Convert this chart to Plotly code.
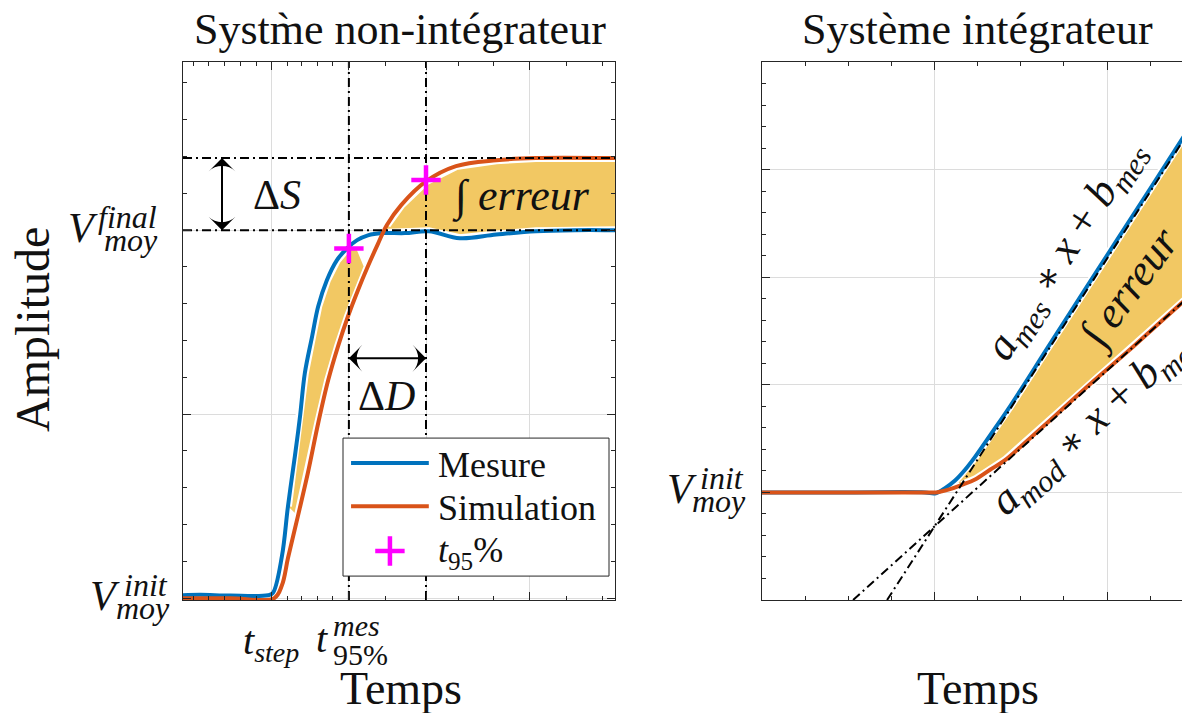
import plotly.graph_objects as go

W, H = 1190, 713
OFF = 8  # the page body adds an 8 px margin around the figure
SERIF = "Liberation Serif"
INK = "#111111"
AXIS = "#262626"
GRID = "#dcdcdc"
BLUE = "#0072BD"
RED = "#D95319"
GOLD = "rgb(242,200,99)"
MAGENTA = "#FF00FF"

# ---------------- left panel : non-integrating system ----------------
# time (arbitrary units) and amplitude normalised to the measured final value
t_mes = [0, 0.4, 1.1, 1.97, 2.08, 2.29, 2.43, 2.59, 2.71, 2.82, 2.99, 3.13, 3.33,
         3.56, 3.80, 4.03, 4.28, 4.61, 5.14, 5.69, 6.41, 7.25, 8.17, 9.07, 10.0, 10.3]
y_mes = [0.008, 0.009, 0.007, 0.008, 0.014, 0.114, 0.25, 0.386, 0.495, 0.611, 0.712,
         0.793, 0.864, 0.918, 0.951, 0.973, 0.986, 0.992, 0.992, 0.997, 0.978, 0.988,
         0.997, 1.0, 1.0, 1.0]
t_sim = [0, 1.09, 2.11, 2.29, 2.43, 2.66, 2.89, 3.13, 3.36, 3.59, 3.82, 4.05, 4.28,
         4.51, 4.72, 5.05, 5.63, 6.32, 7.25, 8.17, 10.0, 10.3]
y_sim = [0, 0, 0, 0.035, 0.109, 0.223, 0.340, 0.476, 0.592, 0.685, 0.766, 0.837, 0.902,
         0.962, 1.014, 1.068, 1.133, 1.174, 1.190, 1.196, 1.196, 1.196]

t_step = 2.06
t95_mes = 3.84
t95_sim = 5.625
V_final = 1.0
V_final_sim = 1.196
y95_mes = 0.95 * V_final
y95_sim = 0.95 * V_final_sim
t_dS = 0.903      # where the delta-S arrow stands
y_dD = 0.652      # where the delta-D arrow stands

x_major_left = [t_step, t95_mes, t95_sim, 8.03]
x_minor_left = [0.25, 0.60, 0.97, 1.32, 1.69, 2.41, 2.75, 3.12, 3.47, 4.68, 6.37, 7.18, 8.87, 9.70]
XL = [0, 10]
YL = [-0.005, 1.457]

# ---------------- right panel : integrating system ----------------
x_mes_r = [0, 0.51, 0.945, 1.003, 1.061, 1.119, 1.177, 1.235, 1.322, 1.438, 1.670, 1.959, 2.249, 2.510]
y_mes_r = [1.0, 1.0, 1.0, 0.99, 1.04, 1.11, 1.21, 1.33, 1.53, 1.80, 2.38, 3.10, 3.82, 4.47]
x_sim_r = [0, 0.945, 1.009, 1.090, 1.159, 1.235, 1.322, 1.409, 1.496, 1.704, 1.919, 2.128, 2.307, 2.510]
y_sim_r = [1.0, 1.0, 1.0, 1.03, 1.07, 1.12, 1.21, 1.30, 1.42, 1.72, 2.03, 2.32, 2.58, 2.87]
# fitted straight lines a*x + b (end points)
x_fit_mes = [0.725, 2.510]
y_fit_mes = [0.0, 4.44]
x_fit_sim = [0.528, 2.510]
y_fit_sim = [0.0, 2.87]
XR = [0, 2.481]
YR = [0, 5]

DASH = "9px,4px,2px,4px"


def trace(x, y, color, width, ax="", dash=None, shape="linear"):
    return go.Scatter(x=x, y=y, mode="lines", xaxis="x" + ax, yaxis="y" + ax,
                      line=dict(color=color, width=width, dash=dash, shape=shape),
                      hoverinfo="skip", showlegend=False)


def patch(x, y, ax=""):
    return go.Scatter(x=x, y=y, mode="lines", fill="toself", fillcolor=GOLD,
                      xaxis="x" + ax, yaxis="y" + ax,
                      line=dict(color="white", width=8),
                      hoverinfo="skip", showlegend=False)


def plus(x, y):
    return go.Scatter(x=x, y=y, mode="markers", hoverinfo="skip", showlegend=False,
                      marker=dict(symbol="cross-thin", size=21,
                                  line=dict(color=MAGENTA, width=4.5)))


def double_arrow(x, y, angles):
    return go.Scatter(x=x, y=y, mode="lines+markers", hoverinfo="skip", showlegend=False,
                      line=dict(color="black", width=2),
                      marker=dict(symbol="arrow-wide", size=19, angle=angles, color="black",
                                  line=dict(width=0)))


fig = go.Figure()

# left : error areas
fig.add_trace(patch(t_mes[6:16] + t_sim[5:13][::-1], y_mes[6:16] + y_sim[5:13][::-1]))
fig.add_trace(patch(t_sim[14:] + t_mes[17:][::-1], y_sim[14:] + y_mes[17:][::-1]))
# left : curves
fig.add_trace(trace(t_mes, y_mes, BLUE, 4, shape="spline"))
fig.add_trace(trace(t_sim, y_sim, RED, 4, shape="spline"))
# left : construction lines
fig.add_trace(trace(XL, [V_final_sim] * 2, "black", 2, dash=DASH))
fig.add_trace(trace(XL, [V_final] * 2, "black", 2, dash=DASH))
fig.add_trace(trace([t95_mes] * 2, YL, "black", 2, dash=DASH))
fig.add_trace(trace([t95_sim] * 2, YL, "black", 2, dash=DASH))
# left : delta arrows
fig.add_trace(double_arrow([t_dS, t_dS], [V_final, V_final_sim], [180, 0]))
fig.add_trace(double_arrow([t95_mes, t95_sim], [y_dD, y_dD], [270, 90]))

# left : legend box (drawn by hand, like the original)
lg_x0, lg_x1, lg_y0, lg_y1 = 3.704, 9.861, 0.060, 0.435
fig.add_trace(go.Scatter(x=[lg_x0, lg_x1, lg_x1, lg_x0, lg_x0], y=[lg_y0, lg_y0, lg_y1, lg_y1, lg_y0],
                         mode="lines", fill="toself", fillcolor="white",
                         line=dict(color=AXIS, width=1), hoverinfo="skip", showlegend=False))
fig.add_trace(trace([3.89, 5.69], [0.367, 0.367], BLUE, 4))
fig.add_trace(trace([3.89, 5.69], [0.250, 0.250], RED, 4))
fig.add_trace(plus([4.79], [0.128]))

# left : 95 % points
fig.add_trace(plus([t95_mes, t95_sim], [y95_mes, y95_sim]))

# right : error area, curves, fitted lines
fig.add_trace(patch(x_mes_r[5:] + x_sim_r[4:][::-1], y_mes_r[5:] + y_sim_r[4:][::-1], ax="2"))
fig.add_trace(trace(x_mes_r, y_mes_r, BLUE, 4, ax="2", shape="spline"))
fig.add_trace(trace(x_sim_r, y_sim_r, RED, 4, ax="2", shape="spline"))
fig.add_trace(trace(x_fit_mes, y_fit_mes, "black", 2, ax="2", dash=DASH))
fig.add_trace(trace(x_fit_sim, y_fit_sim, "black", 2, ax="2", dash=DASH))


def px(x):
    return (x - OFF) / W


def py(y):
    return 1 - (y - OFF) / H


def note(text, x, y, size, xanchor="center", yanchor="middle", angle=0):
    return dict(text=text, x=px(x), y=py(y), xref="paper", yref="paper", showarrow=False,
                xanchor=xanchor, yanchor=yanchor, textangle=angle,
                font=dict(family=SERIF, size=size, color=INK))


def v_label(sup, p, xv, xs, xb):
    return [note("<i>V</i>", xv, p - 4, 42, xanchor="left"),
            note("<i>%s</i>" % sup, xs, p - 15, 32, xanchor="left"),
            note("<i>moy</i>", xb, p + 8, 32, xanchor="left")]


STAR = '<span style="font-family:DejaVu Serif;font-size:85%">∗</span>'

ann = [
    note("Systm\u0300e non-intégrateur", 400, 29, 44),
    note("Système intégrateur", 977, 29, 44),
    note("Temps", 401, 688, 46),
    note("Temps", 978, 688, 46),
    note("Amplitude", 32, 330, 48, angle=-90),
    note("<i>t</i><sub><i>step</i></sub>", 271, 643, 40),
    note("<i>t</i>", 322, 638, 40),
    note("<i>mes</i>", 331, 625, 30, xanchor="left"),
    note("95%", 331, 654, 30, xanchor="left"),
    note("Δ<i>S</i>", 277, 195, 42),
    note("Δ<i>D</i>", 386, 396, 42),
    note("∫ <i>erreur</i>", 521, 196, 44),
    note("Mesure", 436, 465, 36, xanchor="left"),
    note("Simulation", 436, 508, 36, xanchor="left"),
    note("<i>t</i><sub>95</sub>%", 436, 552, 36, xanchor="left"),
    note("<i>a<sub>mes</sub></i> %s <i>x</i> + <i>b<sub>mes</sub></i>" % STAR, 1066, 250, 44, angle=-57),
    note("∫ <i>erreur</i>", 1129, 288, 44, angle=-54),
    note("<i>a<sub>mod</sub></i> %s <i>x</i> + <i>b<sub>mod</sub></i>" % STAR, 1096, 420, 44, angle=-42),
]
ann += v_label("final", 232, 66, 96, 102)
ann += v_label("init", 600, 88, 122, 114)
ann += v_label("init", 493, 665, 698, 690)

axis_common = dict(showline=True, linecolor=AXIS, linewidth=1, ticks="inside", ticklen=8,
                   tickcolor=AXIS, showticklabels=False, showgrid=True, gridcolor=GRID,
                   gridwidth=1, zeroline=False, fixedrange=True)

y_dom = [1 - (600 - OFF) / H, 1 - (62 - OFF) / H]

fig.update_layout(
    width=W, height=H,
    margin=dict(l=0, r=0, t=0, b=0),
    paper_bgcolor="white", plot_bgcolor="white",
    showlegend=False,
    annotations=ann,
    xaxis=dict(axis_common, domain=[px(183), px(615)], range=XL, anchor="y", mirror="ticks",
               tickmode="array", tickvals=x_major_left,
               minor=dict(tickmode="array", tickvals=x_minor_left, ticks="inside",
                          ticklen=4, tickcolor=AXIS, showgrid=False)),
    yaxis=dict(axis_common, domain=y_dom, range=YL, anchor="x", mirror="ticks",
               tickmode="array", tickvals=[0, 0.5, 1.0],
               minor=dict(tick0=0, dtick=0.1, ticks="inside", ticklen=4, tickcolor=AXIS, showgrid=False)),
    xaxis2=dict(axis_common, domain=[px(762), px(1190)], range=XR, anchor="y2", mirror="ticks",
                tick0=0, dtick=1,
                minor=dict(tick0=0, dtick=0.25, ticks="inside", ticklen=4, tickcolor=AXIS, showgrid=False)),
    yaxis2=dict(axis_common, domain=y_dom, range=YR, anchor="x2", mirror=False,
                tick0=0, dtick=1,
                minor=dict(tick0=0, dtick=0.2, ticks="inside", ticklen=4, tickcolor=AXIS, showgrid=False)),
)

fig.write_html("out.html")
